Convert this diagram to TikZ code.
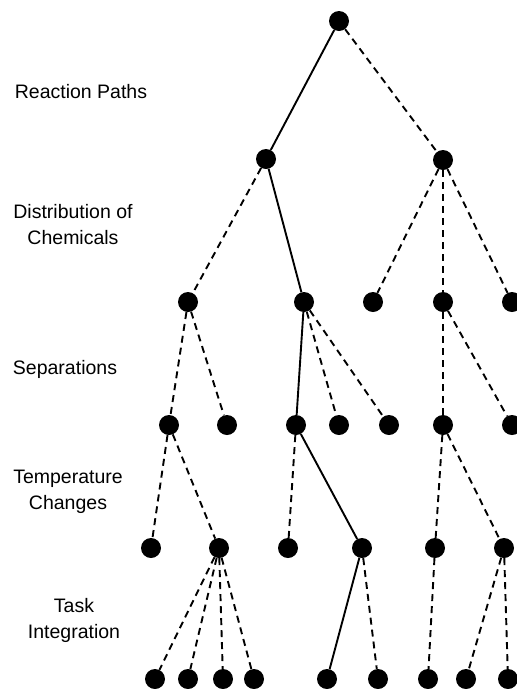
\documentclass[tikz,border=0pt]{standalone}
\usepackage{fontspec}
\setmainfont{Liberation Sans}
\begin{document}
\begin{tikzpicture}[x=1pt,y=-1pt,
  dot/.style={circle,fill=black,inner sep=0pt,minimum size=20pt},
  solidedge/.style={line width=1.9pt},
  dashedge/.style={line width=1.9pt,dash pattern=on 7pt off 5pt},
  lvl/.style={font=\fontsize{19.5}{26}\selectfont,align=center}]
\useasboundingbox (0,0) rectangle (517,689);
\clip (0,0) rectangle (517,689);
% labels
\node[lvl] (l1) at (81,92) {Reaction Paths};
\node[lvl] (l2) at (73,225) {Distribution of\\Chemicals};
\node[lvl] (l3) at (65,369) {Separations};
\node[lvl] (l4) at (68,492) {Temperature\\Changes};
\node[lvl] (l5) at (74,620) {Task\\Integration};
% nodes
\node[dot] (r) at (339,21) {};
\node[dot] (a) at (266,159) {};
\node[dot] (b) at (443,160) {};
\node[dot] (a1) at (188,302) {};
\node[dot] (a2) at (304,302) {};
\node[dot] (b1) at (373,302) {};
\node[dot] (b2) at (443,302) {};
\node[dot] (b3) at (512,302) {};
\node[dot] (a11) at (169,425) {};
\node[dot] (a12) at (227,425) {};
\node[dot] (a21) at (296,425) {};
\node[dot] (a22) at (339,425) {};
\node[dot] (a23) at (389,425) {};
\node[dot] (b21) at (443,425) {};
\node[dot] (b22) at (512,425) {};
\node[dot] (c1) at (151,548) {};
\node[dot] (c2) at (219,548) {};
\node[dot] (c3) at (288,548) {};
\node[dot] (c4) at (362,548) {};
\node[dot] (c5) at (435,548) {};
\node[dot] (c6) at (504,548) {};
\node[dot] (d1) at (155,679) {};
\node[dot] (d2) at (188,679) {};
\node[dot] (d3) at (223,679) {};
\node[dot] (d4) at (254,679) {};
\node[dot] (d5) at (327,679) {};
\node[dot] (d6) at (378,679) {};
\node[dot] (d7) at (428,679) {};
\node[dot] (d8) at (466,679) {};
\node[dot] (d9) at (508,679) {};
% edges
\draw[solidedge] (r) -- (a);
\draw[dashedge] (r) -- (b);
\draw[dashedge] (a) -- (a1);
\draw[solidedge] (a) -- (a2);
\draw[dashedge] (b) -- (b1);
\draw[dashedge] (b) -- (b2);
\draw[dashedge] (b) -- (b3);
\draw[dashedge] (a1) -- (a11);
\draw[dashedge] (a1) -- (a12);
\draw[solidedge] (a2) -- (a21);
\draw[dashedge] (a2) -- (a22);
\draw[dashedge] (a2) -- (a23);
\draw[dashedge] (b2) -- (b21);
\draw[dashedge] (b2) -- (b22);
\draw[dashedge] (a11) -- (c1);
\draw[dashedge] (a11) -- (c2);
\draw[dashedge] (a21) -- (c3);
\draw[solidedge] (a21) -- (c4);
\draw[dashedge] (b21) -- (c5);
\draw[dashedge] (b21) -- (c6);
\draw[dashedge] (c2) -- (d1);
\draw[dashedge] (c2) -- (d2);
\draw[dashedge] (c2) -- (d3);
\draw[dashedge] (c2) -- (d4);
\draw[solidedge] (c4) -- (d5);
\draw[dashedge] (c4) -- (d6);
\draw[dashedge] (c5) -- (d7);
\draw[dashedge] (c6) -- (d8);
\draw[dashedge] (c6) -- (d9);
\end{tikzpicture}
\end{document}
